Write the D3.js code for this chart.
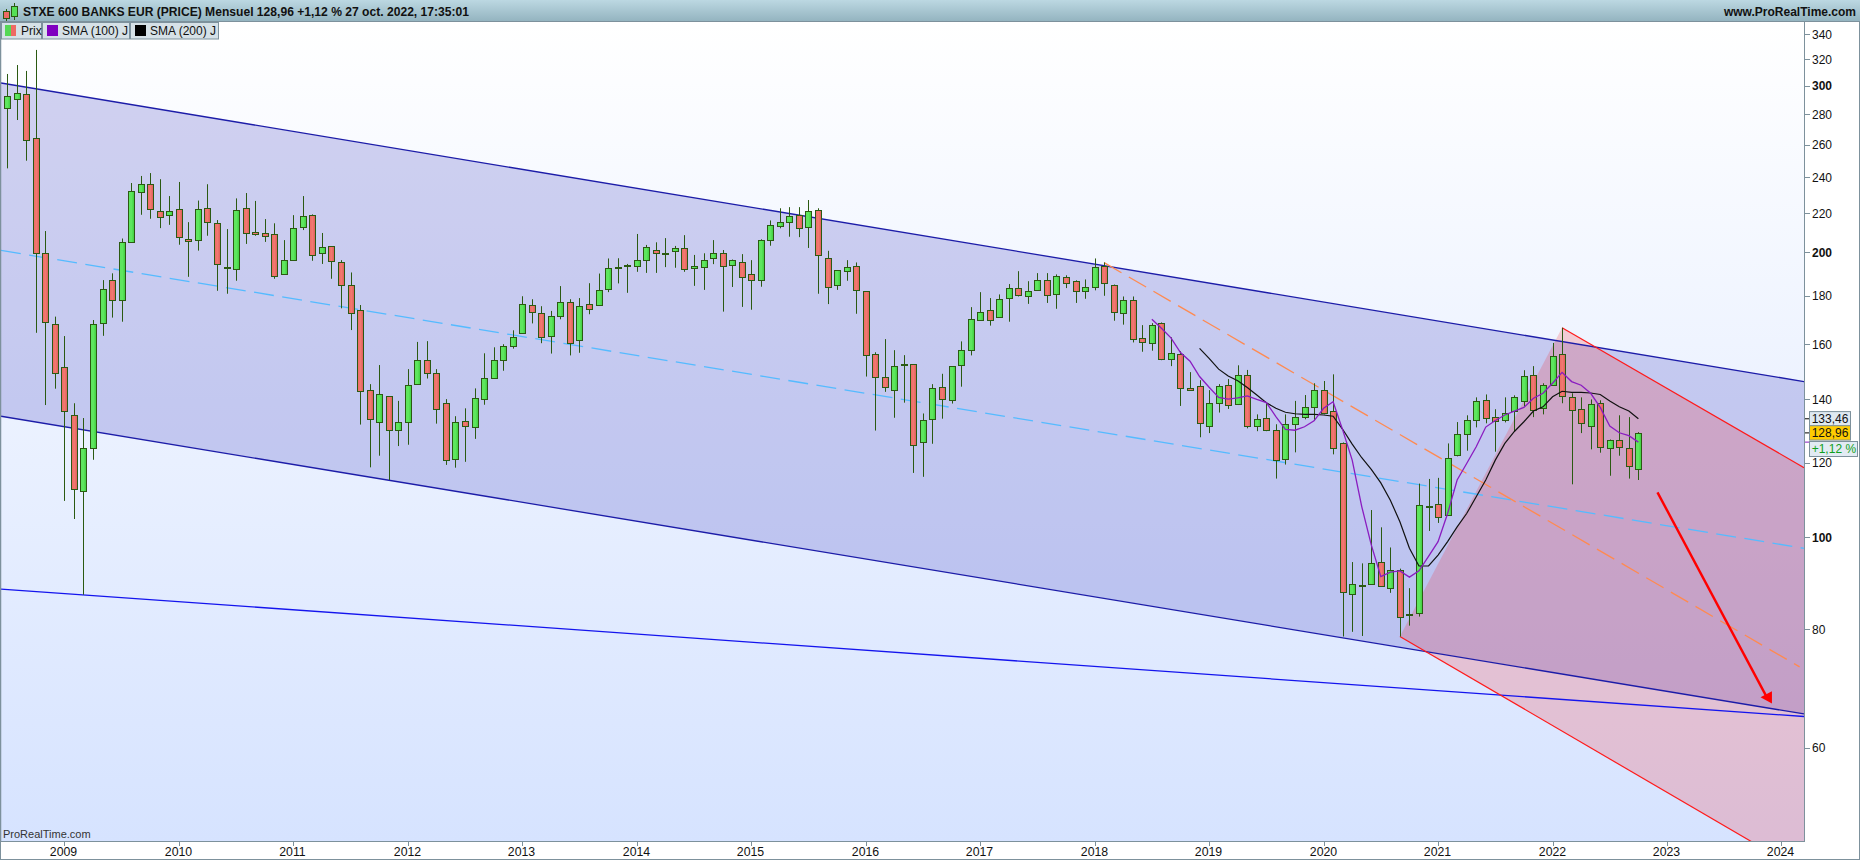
<!DOCTYPE html>
<html><head><meta charset="utf-8">
<script src="https://cdn.jsdelivr.net/npm/d3@7"></script>
<style>html,body{margin:0;padding:0;background:#fff}svg{display:block}text{font-family:"Liberation Sans",Arial,sans-serif}</style>
</head><body><div id="chart"></div>
<script>
const firstMonth = [2008, 7];
const opens = [284,290.7,293.9,264,199.6,168.2,151.5,134.6,112.1,124.2,168.3,186.9,178.1,205.2,231.5,236,221,219.2,222.1,206.5,206,222.6,214.7,192.6,192,222.6,210,209.5,209,190,196.6,213,218.9,199.6,203,195.2,185,173.7,143,132.3,141,129.8,132.3,145.2,153.9,149.1,138.6,120.9,132.7,130.8,140,147.3,153.9,159.2,164.3,175.9,172.5,163.1,171.2,177.1,161.8,176.3,175.8,182.8,192.8,193.9,193.5,196.2,201,199.9,200.6,202,192.4,193.1,197.1,199.6,194,195.2,189.6,186.9,206,213.1,215.2,218.9,212.6,221.5,197.1,185,191,193.4,181.9,156.1,147.7,143,152.3,152.4,126,133.3,144.1,139.6,152,157.7,169.6,173.8,171,178.9,183.3,179.7,182.4,186.9,180.6,188.2,186.4,181.9,183.7,193.4,185,172.5,178,162.3,160.3,168.3,154.3,156.1,143.7,144.4,131.1,138.6,144.8,138.3,148.4,131,133.6,129.8,120.9,131.7,134,137.2,143.3,135.9,125.7,87.1,89.1,89.4,94.2,88.4,92.3,83,83.3,107.9,108.5,105.5,122.1,128.5,133,139.6,134,133,135.9,139.3,148.4,136.9,144.8,156.1,140.7,136.6,131.3,138.6,124.2,126.6,124.2,118];
const highs = [308.7,315.5,311,327.3,210.7,171.1,163.2,138.6,133.7,169.7,187,190.1,206.9,236.8,240.9,242.6,239,229.4,237.4,215.3,226.9,236.1,216.4,211.7,228.1,231.1,226.7,216.9,214.7,206.1,219,229.4,219.4,209.7,203,196.3,190.5,176,145.2,152.1,141,139.4,150.6,160.9,161.2,150.6,140,134.3,136.9,143.7,156.5,158.8,160,165.5,179.8,178.5,175.5,173.5,184.3,178.5,179,185.6,190,197.1,197.2,194.5,209.2,203.7,205,207.1,203.2,208.6,198.8,199.6,206.1,201.2,196.6,199.2,196.3,206.5,216.2,222.7,223.3,223.3,227.2,222.7,200.8,191.6,196.3,195.2,181.9,156.9,162,157.7,155.8,152.4,135.2,145.2,148.9,151.7,161.1,175.1,181.6,179,180.6,185.2,191.1,186.5,190.2,190.2,189.6,189.2,186.9,187.3,197.1,195.2,185,179.7,179.7,167.6,168.4,168.7,162.7,157.3,149.5,146.6,143.1,145.2,147,152,150.3,134.9,138.6,131.7,134.9,139.4,141.4,145.5,146.3,148.7,126,94.2,93.9,106.9,102.5,97.6,92.7,88.4,114,115.3,115.6,125.7,132.4,134.6,140.6,141.6,136.6,140.6,141.3,150.2,151.7,145.5,160.5,166.5,142,140.6,139.9,139.6,126.9,134.6,134,129.2];
const lows = [245.4,276,250,164.5,138,143.6,109.3,104.6,87,120.8,163.3,170.7,169,204.9,219.2,217.1,212.2,213.9,203.8,188.5,200.9,208.3,182.2,180.9,186.7,204.2,208.3,205.2,187.6,190,196.6,211.2,196,194.5,187.6,174.6,165.6,131.6,118.6,122,115,124.9,125.3,145.2,147.2,131.9,119.3,118.5,120.2,127.1,138.1,147.3,150,158.3,164.3,168.3,160.4,156.4,170,155.7,156.7,172.1,175.8,181.6,185.5,181.3,190.8,190.3,190.3,193,192.7,190.8,184.4,182.6,194.4,173.2,183.9,175.2,174,184,203.3,212.1,207.8,207.6,202.2,180.9,176.4,182.6,186.7,172.3,147.9,129.7,142.5,133.8,138.8,117,115.9,125.6,133.5,138.5,144.3,155.7,169.6,167.4,171,169,179.7,176.5,182.4,176.9,174.4,183.4,176.9,178.7,182.4,180,169.4,167.8,160.7,157.1,157.5,153.9,151.7,137.7,143,127.6,128.9,135.5,136.7,138,130.4,129.5,129.5,115.4,119.4,123,133.3,132.9,134.9,122.4,78.6,79.5,78.7,89.4,88.8,87.4,78.6,80.7,82.5,101.6,103.6,105.5,121.8,123.5,130.7,132,123.2,132.3,129.5,137.5,134,134.9,144.8,138.6,113.8,128.9,123.9,122.9,116.2,122,115.4,115];
const closes = [292.9,294.6,262.7,199.6,168.7,149.1,135.9,112.4,124.2,167.9,182.8,178.1,205.2,232.1,236,222.1,217.8,221,207.5,205.5,222.1,215.2,194.3,193.2,221.5,209.5,209,208,189.1,196.6,212.5,218.3,198.6,202.5,195.7,185,172.7,142.7,133.3,141.6,129.8,132.3,144.8,153.9,149.1,136.6,120.6,132.3,131.1,140.3,147.3,153.9,159.2,162.7,176.5,172.9,162.7,171.2,177.5,160.4,175.4,174.2,182.4,192.8,193,193.6,196.2,202.5,199.6,199.7,202,191.9,193.3,196.6,199.6,193.7,196.2,188.2,186.9,206,213.6,215.2,218.3,212.1,221,198.6,184.1,191.5,192.9,182.4,155.8,147.7,144.1,151.7,152.1,125.1,133,143.7,139.9,151.7,157.7,170,173,169.6,178.4,183.3,180.2,181.9,186.9,180.2,188.7,185.9,181.9,183.7,192.9,185.5,172.9,178,161.9,160.7,167.6,154.3,156.5,143.7,143,132,138.6,144.4,137.9,148.4,131,133.3,129.8,120.6,131.7,134,137.2,143,135.5,124.2,87.5,89.4,89,93.9,88.8,92.4,82.5,82.9,108.1,108,105,121.2,128.5,133,139.3,133.6,132.7,135.5,140.6,148,136.2,144.8,155.4,141,136.2,132,138.3,124.5,126.6,124.5,118.9,128.96];
const sma100Start = 120;
const sma100 = [170,166.3,162.5,156.8,153.5,147.9,144.1,140.6,140,140.4,141.1,139.9,138.8,134.2,130.1,129.8,130.9,132.8,136.9,139.1,129.9,120.7,107.8,98.2,90.9,91.9,92.2,90.8,92.2,95.5,99,106,115,119.7,124.7,130.8,132.9,134.7,136,137.2,140.3,142,145.5,149.4,146.1,144.8,142,137.2,131.1,129,128.1,126.1];
const sma200Start = 125;
const sma200 = [158.4,154.6,150.6,148.1,146.4,144,141.4,138.8,136.9,135.6,135.1,134.9,134.9,134.7,134.3,130.1,125.5,121.4,118,114.2,109.5,103.9,97.4,93.3,93.3,95.8,99,102.6,106,110.4,115,120.7,125.7,129.4,132.5,136,137.4,140.8,142.7,142.3,142.3,142.1,141.6,139.4,137.4,136,133.46];
const yearLabels = [2009,2010,2011,2012,2013,2014,2015,2016,2017,2018,2019,2020,2021,2022,2023,2024];
const priceTicks = [340,320,300,280,260,240,220,200,180,160,140,120,100,80,60];
const boldTicks = [300,200,100];
const channelUpper = [[-0.64,302],[188.36,146.1]];
const channelLower = [[-0.64,134.3],[188.36,65.1]];
const channelMid = [[-0.64,201],[188.36,97.4]];
const floorLine = [[-0.64,88.2],[188.36,64.7]];
const orangeLine = [[115,195.1],[187.9,73]];
const redChannel = [[146,78.6],[163,166.5],[188.36,118.5],[188.36,44.3]];
const arrowLine = [[173,111.6],[184.4,68]];
const arrowHead = [[183.8,67.8],[185,68.8],[185,66.8]];
const titleText = "STXE 600 BANKS EUR (PRICE) Mensuel 128,96 +1,12 % 27 oct. 2022, 17:35:01";
const siteText = "www.ProRealTime.com";
const watermark = "ProRealTime.com";
const legendItems = ["Prix","SMA (100) J","SMA (200) J"];
const lastLabels = ["133,46","128,96","+1,12 %"];

const W=1860,H=860,L=1,R=1804,T=22,B=841;
const x=d3.scaleLinear().domain([-0.64,188.36]).range([L,R]);
const y=d3.scaleLog().domain([350.3,47.8]).range([T,B]);
const svg=d3.select("#chart").append("svg").attr("width",W).attr("height",H);
const defs=svg.append("defs");
function grad(id,stops,vertical){const g=defs.append("linearGradient").attr("id",id).attr("x1",0).attr("y1",0).attr("x2",vertical?0:1).attr("y2",vertical?1:0);stops.forEach(s=>g.append("stop").attr("offset",s[0]).attr("stop-color",s[1]));}
grad("bg",[[0,"#ffffff"],[1,"#d6e3ff"]],true);
grad("hdr",[[0,"#bcd8e2"],[1,"#94b4c0"]],true);
grad("gUp",[[0,"#5ee65e"],[.5,"#5ee65e"],[1,"#3ccc3c"]],false);
grad("gDn",[[0,"#ec6a64"],[.5,"#f27870"],[1,"#dc5c58"]],false);
defs.append("clipPath").attr("id","plot").append("rect").attr("x",L).attr("y",T).attr("width",R-L).attr("height",B-T);

svg.append("rect").attr("x",L).attr("y",T).attr("width",R-L).attr("height",B-T).attr("fill","url(#bg)");
const plot=svg.append("g").attr("clip-path","url(#plot)");
const line=d3.line().x(d=>x(d[0])).y(d=>y(d[1]));
plot.append("path").attr("d",line([channelUpper[0],channelUpper[1],channelLower[1],channelLower[0]])+"Z").attr("fill","rgba(36,36,180,.2)");
plot.append("path").attr("d",line(redChannel)+"Z").attr("fill","rgba(255,0,0,.17)");
plot.append("path").attr("d",line(floorLine)).attr("stroke","#1414ee").attr("stroke-width",1.3).attr("fill","none");
plot.append("path").attr("d",line(channelUpper)).attr("stroke","#1c1ca8").attr("stroke-width",1.3).attr("fill","none");
plot.append("path").attr("d",line(channelLower)).attr("stroke","#1c1ca8").attr("stroke-width",1.3).attr("fill","none");
plot.append("path").attr("d",line(channelMid)).attr("stroke","#55bbff").attr("stroke-width",1.3).attr("stroke-dasharray","20 8.5").attr("fill","none");
plot.append("path").attr("d",line(orangeLine)).attr("stroke","#ff8a50").attr("stroke-width",1.3).attr("stroke-dasharray","20 8.5").attr("fill","none");
plot.append("path").attr("d",line([redChannel[0],redChannel[3]])).attr("stroke","#ff1a1a").attr("stroke-width",1.2).attr("fill","none");
plot.append("path").attr("d",line([redChannel[1],redChannel[2]])).attr("stroke","#ff1a1a").attr("stroke-width",1.2).attr("fill","none");

const idx=d3.range(closes.length);
const c=plot.append("g");
c.selectAll("line").data(idx).join("line").attr("x1",i=>Math.round(x(i))+.5).attr("x2",i=>Math.round(x(i))+.5).attr("y1",i=>y(highs[i])).attr("y2",i=>y(lows[i])).attr("stroke","#2b5a12").attr("stroke-width",1);
const bw=6;
const topY=i=>Math.round(y(Math.max(opens[i],closes[i])))+.5;
const botY=i=>Math.round(y(Math.min(opens[i],closes[i])))+.5;
c.selectAll("rect").data(idx).join("rect")
 .attr("x",i=>Math.round(x(i))+.5-bw/2).attr("width",bw)
 .attr("y",topY)
 .attr("height",i=>Math.max(1,botY(i)-topY(i)))
 .attr("fill",i=>closes[i]>=opens[i]?"url(#gUp)":"url(#gDn)").attr("stroke","#2b5a12").attr("stroke-width",1);
plot.append("path").attr("d",d3.line().x((d,i)=>x(i+sma200Start)).y(d=>y(d))(sma200)).attr("fill","none").attr("stroke","#111").attr("stroke-width",1.2);
plot.append("path").attr("d",d3.line().x((d,i)=>x(i+sma100Start)).y(d=>y(d))(sma100)).attr("fill","none").attr("stroke","#8a1cc0").attr("stroke-width",1.3);
plot.append("path").attr("d",line(arrowLine)).attr("stroke","#ff0000").attr("stroke-width",2.4).attr("fill","none");
plot.append("path").attr("d",line(arrowHead)+"Z").attr("fill","#ff0000");

// frame
const axisCol="#7d919c";
svg.append("rect").attr("x",.5).attr("y",.5).attr("width",W-1).attr("height",H-1).attr("fill","none").attr("stroke",axisCol);
svg.append("line").attr("x1",R+.5).attr("x2",R+.5).attr("y1",T).attr("y2",B).attr("stroke",axisCol);
svg.append("line").attr("x1",L).attr("x2",R+1).attr("y1",B+.5).attr("y2",B+.5).attr("stroke",axisCol);
svg.append("line").attr("x1",.5).attr("x2",.5).attr("y1",T).attr("y2",B).attr("stroke",axisCol).attr("stroke-width",1.5);

// header
svg.append("rect").attr("x",0).attr("y",0).attr("width",W).attr("height",21).attr("fill","url(#hdr)");
svg.append("rect").attr("x",0).attr("y",21).attr("width",W).attr("height",1).attr("fill",axisCol);
const icon=svg.append("g");
icon.append("line").attr("x1",6.5).attr("x2",6.5).attr("y1",9).attr("y2",21).attr("stroke","#2b5a12");
icon.append("rect").attr("x",3.5).attr("y",11.5).attr("width",6).attr("height",7).attr("fill","#ee6a64").attr("stroke","#2b5a12");
icon.append("line").attr("x1",14.5).attr("x2",14.5).attr("y1",3).attr("y2",20).attr("stroke","#2b5a12");
icon.append("rect").attr("x",11.5).attr("y",6.5).attr("width",6).attr("height",10).attr("fill","#55e055").attr("stroke","#2b5a12");
svg.append("text").attr("x",23).attr("y",15.5).attr("font-size",12.1).attr("font-weight",700).attr("fill","#111").text(titleText);
svg.append("text").attr("x",1856).attr("y",15.5).attr("text-anchor","end").attr("font-size",12).attr("font-weight",700).attr("fill","#111").text(siteText);

// legend
const lx=[1,42,130,219];
legendItems.forEach((t,i)=>{
 svg.append("rect").attr("x",lx[i]+.5).attr("y",22.5).attr("width",lx[i+1]-lx[i]-1).attr("height",16.5).attr("fill","#d6e1e7").attr("stroke",axisCol);
 if(i==0){svg.append("rect").attr("x",5).attr("y",25).attr("width",6).attr("height",11).attr("fill","#55d855");svg.append("rect").attr("x",11).attr("y",25).attr("width",5).attr("height",11).attr("fill","#ee6a64");}
 else svg.append("rect").attr("x",lx[i]+5).attr("y",25).attr("width",11).attr("height",11).attr("fill",i==1?"#8000c0":"#000");
 svg.append("text").attr("x",lx[i]+20).attr("y",34.5).attr("font-size",12).attr("fill","#111").text(t);
});

// axes
priceTicks.forEach(p=>{
 svg.append("line").attr("x1",R+1).attr("x2",R+6).attr("y1",Math.round(y(p))+.5).attr("y2",Math.round(y(p))+.5).attr("stroke",axisCol);
 svg.append("text").attr("x",R+8).attr("y",y(p)+4.5).attr("font-size",12).attr("font-weight",boldTicks.includes(p)?700:400).attr("fill","#111").text(p);
});
const monthOf=yr=>(yr-firstMonth[0])*12+1-firstMonth[1];
yearLabels.forEach(yr=>{
 const px=Math.round(x(monthOf(yr)))+.5;
 svg.append("line").attr("x1",px).attr("x2",px).attr("y1",B+1).attr("y2",B+5).attr("stroke",axisCol);
 svg.append("text").attr("x",px-1).attr("y",856).attr("text-anchor","middle").attr("font-size",12.3).attr("fill","#111").text(yr);
});
svg.append("text").attr("x",3).attr("y",838).attr("font-size",11).attr("fill","#333").text(watermark);

// last value labels
const yVals=[sma200[sma200.length-1],closes[closes.length-1]];
const tagFill=["#dfe9f1","#ffcc00"];
yVals.forEach((v,i)=>{
 const py=y(v);
 svg.append("line").attr("x1",R+1).attr("x2",R+6).attr("y1",py).attr("y2",py).attr("stroke","#000");
 svg.append("rect").attr("x",1809.5).attr("y",py-7.2).attr("width",41).attr("height",14.4).attr("fill",tagFill[i]).attr("stroke",axisCol);
 svg.append("text").attr("x",1811.7).attr("y",py+4.5).attr("font-size",12).attr("fill","#111").text(lastLabels[i]);
});
const py3=y(sma100[sma100.length-1]);
svg.append("line").attr("x1",R+1).attr("x2",R+6).attr("y1",py3).attr("y2",py3).attr("stroke","#8a1cc0");
svg.append("rect").attr("x",1809.5).attr("y",441.5).attr("width",48).attr("height",15).attr("fill","#e2ebf3").attr("stroke",axisCol);
svg.append("text").attr("x",1811.7).attr("y",453.3).attr("font-size",12).attr("fill","#11a020").text(lastLabels[2]);
</script></body></html>
